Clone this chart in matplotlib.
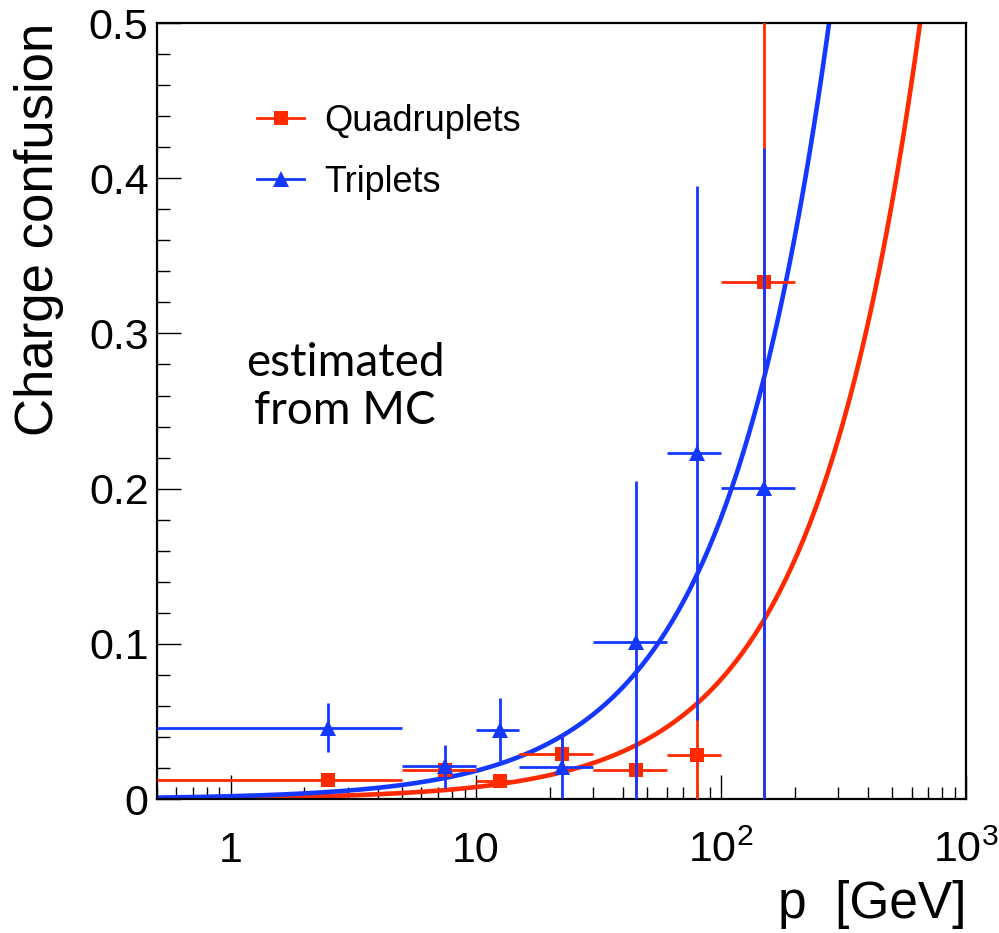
import numpy as np
import matplotlib
matplotlib.use('Agg')
import matplotlib.pyplot as plt
from matplotlib.lines import Line2D
from matplotlib.ticker import FixedLocator, LogLocator, MultipleLocator, NullFormatter

plt.rcParams['font.family'] = ['Liberation Sans', 'DejaVu Sans']
plt.rcParams['mathtext.default'] = 'regular'

# momentum bins [GeV]
p_centre = [2.5, 7.5, 12.5, 22.5, 45, 80, 150]
p_low = [0.5, 5, 10, 15, 30, 60, 100]
p_high = [5, 10, 15, 30, 60, 100, 200]

# charge confusion, quadruplets
quad_y = [0.0122, 0.019, 0.0118, 0.0289, 0.0186, 0.0283, 0.333]
quad_err = [0.003, 0.006, 0.004, 0.012, 0.015, 0.028, 0.36]

# charge confusion, triplets
trip_y = [0.046, 0.021, 0.0447, 0.0206, 0.101, 0.223, 0.2005]
trip_err = [0.016, 0.014, 0.0203, 0.020, 0.104, 0.172, 0.219]

# linear fits: confusion = slope * p
quad_slope = 0.00077
trip_slope = 0.00181

red = '#ff2a00'
blue = '#1438ff'

fig = plt.figure(figsize=(9.99, 9.33), dpi=100)
ax = fig.add_axes([0.157, 0.1436, 0.810, 0.8317])

p_fit = np.logspace(np.log10(0.5), 3, 400)
ax.plot(p_fit, quad_slope * p_fit, color=red, lw=3.3, zorder=2)
ax.plot(p_fit, trip_slope * p_fit, color=blue, lw=3.3, zorder=2)

xerr = [np.array(p_centre) - np.array(p_low), np.array(p_high) - np.array(p_centre)]
ax.errorbar(p_centre, quad_y, xerr=xerr, yerr=quad_err, fmt='s', color=red,
            ms=10, mew=0, elinewidth=2, capsize=0, zorder=3)
ax.errorbar(p_centre, trip_y, xerr=xerr, yerr=trip_err, fmt='^', color=blue,
            ms=11, mew=0, elinewidth=2, capsize=0, zorder=4)

ax.set_xscale('log')
ax.set_xlim(0.5, 1000)
ax.set_ylim(0, 0.5)

ax.xaxis.set_major_locator(FixedLocator([1, 10, 100, 1000]))
ax.xaxis.set_minor_locator(LogLocator(base=10, subs=np.arange(2, 10)))
ax.xaxis.set_minor_formatter(NullFormatter())
ax.set_xticklabels(['1', '10', r'$10^{2}$', r'$10^{3}$'])
ax.yaxis.set_minor_locator(MultipleLocator(0.02))
ax.set_yticks([0, 0.1, 0.2, 0.3, 0.4, 0.5])
ax.set_yticklabels(['0', '0.1', '0.2', '0.3', '0.4', '0.5'])

ax.tick_params(which='both', direction='in', top=False, right=False, width=1.0)
ax.tick_params(which='major', length=17)
ax.tick_params(which='minor', length=9)
ax.tick_params(axis='y', labelsize=31, pad=6)
ax.tick_params(axis='x', labelsize=31, pad=45)
for lbl in ax.get_xticklabels():
    lbl.set_va('baseline')

for s in ax.spines.values():
    s.set_linewidth(1.6)

ax.set_ylabel('Charge confusion', fontsize=38, loc='top')
ax.yaxis.set_label_coords(-0.115, 1.0)
ax.set_xlabel('p  [GeV]', fontsize=37, loc='right')
ax.xaxis.set_label_coords(1.0, -0.104)

handles = [Line2D([], [], color=red, marker='s', ms=10, mew=0, lw=2),
           Line2D([], [], color=blue, marker='^', ms=11, mew=0, lw=2)]
ax.legend(handles, ['Quadruplets', 'Triplets'], loc='center left',
          bbox_to_anchor=(0.124, 0.834), frameon=False, fontsize=26,
          handlelength=1.3, handletextpad=0.55, labelspacing=0.72,
          borderpad=0, borderaxespad=0)

txt = fig.text(345 / 999, 1 - 387 / 933, 'estimated\nfrom MC', fontsize=33,
               family='Lato', ha='center', va='center', linespacing=1.15)

fig.savefig('out.png', dpi=100)
